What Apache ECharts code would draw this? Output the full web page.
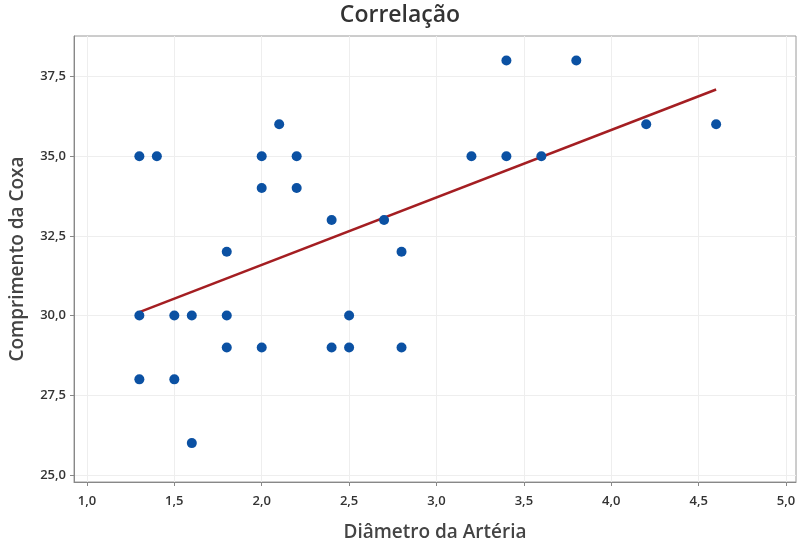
<!DOCTYPE html>
<html>
<head>
<meta charset="utf-8">
<script src="https://cdn.jsdelivr.net/npm/echarts@6/dist/echarts.min.js"></script>
<style>
  html, body { margin: 0; padding: 0; background: #fff; }
  #chart { width: 800px; height: 547px; }
</style>
</head>
<body>
<div id="chart"></div>
<script>
// Dados
const diametro = [1.3, 1.4, 2.0, 2.2, 3.2, 3.4, 3.6, 2.1, 4.2, 4.6, 2.0, 2.2, 2.4, 2.7, 1.8, 2.8,
  1.3, 1.5, 1.6, 1.8, 2.5, 1.8, 2.0, 2.4, 2.5, 2.8, 1.3, 1.5, 1.6, 3.4, 3.8]
const comprimento = [35, 35, 35, 35, 35, 35, 35, 36, 36, 36, 34, 34, 33, 33, 32, 32,
  30, 30, 30, 30, 30, 29, 29, 29, 29, 29, 28, 28, 26, 38, 38]
const xTicks = [1.0, 1.5, 2.0, 2.5, 3.0, 3.5, 4.0, 4.5, 5.0]
const yTicks = [25.0, 27.5, 30.0, 32.5, 35.0, 37.5]

// reta de regressão (mínimos quadrados)
const n = diametro.length
const mx = diametro.reduce((a, b) => a + b, 0) / n
const my = comprimento.reduce((a, b) => a + b, 0) / n
let sxy = 0, sxx = 0
for (let i = 0; i < n; i++) {
  sxy += (diametro[i] - mx) * (comprimento[i] - my)
  sxx += (diametro[i] - mx) ** 2
}
const b1 = sxy / sxx
const b0 = my - b1 * mx
const xMin = Math.min(...diametro)
const xMax = Math.max(...diametro)
const fitLine = [[xMin, b0 + b1 * xMin], [xMax, b0 + b1 * xMax]]

const fmt = (v) => v.toFixed(1).replace('.', ',')
const font = 'Open Sans'

const chart = echarts.init(document.getElementById('chart'))
chart.setOption({
  animation: false,
  title: {
    text: 'Correlação',
    left: 'center',
    top: -1,
    textStyle: { fontFamily: font, fontSize: 23, fontWeight: 600, color: '#333' }
  },
  grid: {
    left: 69, right: 4, top: 36, bottom: 60,
    show: true, borderColor: '#9a9a9a', borderWidth: 1
  },
  xAxis: {
    type: 'value',
    min: 0.926, max: 5.057,
    name: 'Diâmetro da Artéria',
    nameLocation: 'middle',
    nameGap: 41,
    nameTextStyle: { fontFamily: font, fontSize: 19, fontWeight: 600, color: '#444' },
    axisLine: { show: true, lineStyle: { color: '#888' } },
    axisTick: { show: true, customValues: xTicks, length: 4, lineStyle: { color: '#888' } },
    axisLabel: { customValues: xTicks, formatter: fmt, margin: 13,
      fontFamily: font, fontSize: 13, fontWeight: 600, color: '#333' },
    splitLine: { show: true, lineStyle: { color: '#eeeeee' } }
  },
  yAxis: {
    type: 'value',
    min: 24.78, max: 38.77,
    name: 'Comprimento da Coxa',
    nameLocation: 'middle',
    nameGap: 47,
    nameTextStyle: { fontFamily: font, fontSize: 19, fontWeight: 600, color: '#444' },
    axisLine: { show: true, lineStyle: { color: '#888' } },
    axisTick: { show: true, customValues: yTicks, length: 4, lineStyle: { color: '#888' } },
    axisLabel: { customValues: yTicks, formatter: fmt, margin: 8,
      fontFamily: font, fontSize: 13, fontWeight: 600, color: '#333' },
    splitLine: { show: true, lineStyle: { color: '#eeeeee' } }
  },
  series: [
    {
      type: 'line',
      data: fitLine,
      symbol: 'none',
      lineStyle: { color: '#a41e22', width: 2.5 },
      z: 2
    },
    {
      type: 'scatter',
      data: diametro.map((x, i) => [x, comprimento[i]]),
      symbol: 'circle',
      symbolSize: 10,
      itemStyle: { color: '#0b51a3', opacity: 1 },
      z: 3
    }
  ]
})
</script>
</body>
</html>
